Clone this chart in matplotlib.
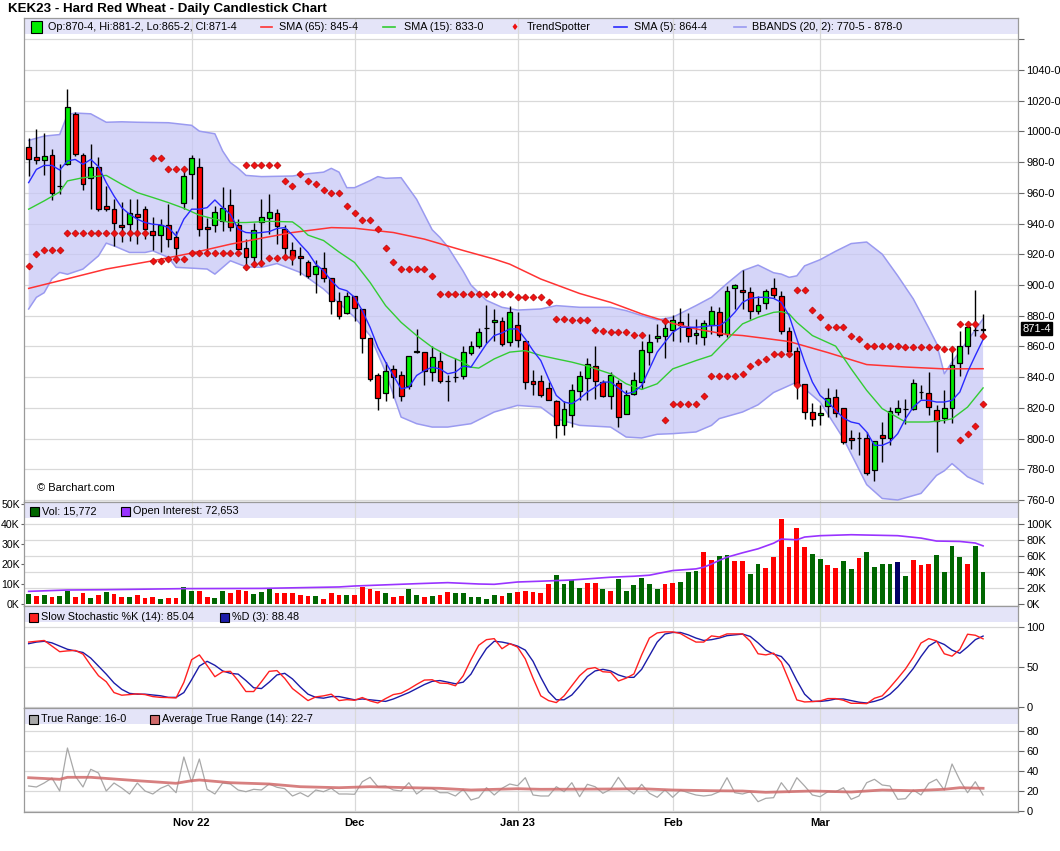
import numpy as np
import matplotlib
matplotlib.use('Agg')
import matplotlib.pyplot as plt
from matplotlib.patches import Rectangle
from matplotlib.lines import Line2D

W, H = 1060, 851

# ---- daily bars, KEK23 (Oct 3 2022 .. Mar 30 2023), index = trading day ----
opens = [990.1, 983.6, 981.2, 984.9, 964.5, 978.6, 1011.5, 984.9, 970.0, 977.1,
         951.3, 949.8, 939.4, 940.0, 946.1, 949.8, 934.9, 932.9, 939.0, 931.6,
         953.3, 972.1, 977.1, 937.5, 939.4, 941.6, 952.4, 939.4, 923.8, 918.4,
         941.3, 943.9, 947.2, 936.8, 922.9, 918.6, 915.1, 906.9, 911.2, 904.3,
         889.4, 881.8, 892.6, 884.4, 865.3, 841.1, 829.6, 845.4, 841.7, 834.2,
         856.3, 856.7, 843.3, 850.4, 837.8, 840.4, 840.6, 855.8, 860.6, 872.0,
         875.7, 876.4, 863.2, 874.0, 863.4, 837.4, 837.4, 832.9, 824.4, 809.1,
         815.1, 830.7, 839.6, 847.2, 836.8, 827.7, 836.1, 815.8, 828.8, 836.8,
         856.7, 865.4, 866.7, 871.0, 875.7, 871.9, 867.3, 866.0, 874.0, 882.2,
         868.2, 897.8, 896.5, 895.2, 882.9, 888.3, 897.8, 893.1, 869.9, 857.3,
         835.3, 817.3, 815.6, 821.2, 827.0, 819.9, 800.4, 800.6, 800.4, 779.8,
         802.1, 800.4, 817.3, 819.5, 819.5, 830.3, 829.6, 818.4, 813.4, 819.9,
         849.1, 860.2, 870.5, 870.5]
highs = [995.9, 1001.8, 999.2, 988.3, 978.6, 1027.7, 1012.8, 986.2, 991.6, 983.6,
         964.5, 955.9, 954.3, 955.9, 955.9, 951.5, 944.0, 943.3, 953.0, 935.3,
         977.1, 984.4, 983.0, 943.7, 951.5, 964.1, 962.4, 942.9, 929.9, 940.7,
         955.8, 959.1, 949.3, 939.0, 928.1, 924.9, 916.2, 916.2, 921.2, 904.3,
         895.2, 895.2, 892.6, 884.4, 865.3, 842.8, 849.7, 847.6, 844.3, 854.0,
         871.4, 856.7, 860.1, 856.3, 841.1, 852.3, 860.6, 863.8, 871.8, 887.0,
         884.4, 879.0, 886.6, 882.2, 863.4, 844.8, 841.5, 836.8, 824.9, 824.4,
         835.7, 843.7, 852.4, 860.2, 837.9, 843.3, 837.9, 831.4, 843.3, 863.8,
         868.2, 874.7, 875.7, 880.5, 884.8, 881.6, 877.9, 877.3, 886.6, 885.9,
         899.6, 900.6, 910.0, 898.5, 893.1, 897.4, 904.5, 896.3, 872.5, 859.5,
         835.3, 823.1, 821.6, 832.9, 832.0, 819.9, 805.4, 804.3, 804.3, 798.2,
         810.8, 820.5, 825.3, 826.0, 838.5, 834.6, 843.3, 821.6, 831.4, 859.5,
         870.3, 875.7, 897.0, 881.25]
lows = [971.0, 978.6, 971.4, 955.4, 959.1, 978.0, 984.0, 961.9, 949.8, 947.9,
        948.3, 925.6, 927.7, 928.8, 926.6, 929.9, 923.0, 921.2, 924.5, 914.1,
        949.4, 956.3, 932.0, 921.2, 934.6, 935.3, 935.3, 923.0, 910.0, 911.5,
        912.6, 933.1, 926.6, 916.9, 913.2, 906.5, 904.7, 894.6, 901.7, 881.1,
        877.9, 881.1, 876.8, 855.8, 837.2, 818.4, 824.8, 826.6, 824.8, 832.0,
        855.8, 835.2, 837.8, 836.1, 824.8, 836.8, 838.9, 854.5, 859.1, 862.1,
        863.8, 860.6, 860.1, 859.5, 832.4, 828.1, 827.0, 824.9, 800.4, 802.1,
        807.6, 824.9, 824.9, 826.0, 827.0, 819.5, 807.6, 815.8, 828.1, 832.4,
        847.6, 862.8, 852.6, 863.8, 863.2, 863.2, 861.7, 861.2, 868.2, 866.0,
        866.0, 884.4, 884.4, 877.9, 881.2, 884.4, 891.3, 868.2, 854.1, 825.9,
        813.0, 808.2, 808.6, 814.0, 814.0, 796.7, 793.5, 789.6, 776.6, 772.3,
        784.8, 795.6, 815.1, 809.3, 818.4, 826.0, 815.1, 791.3, 810.4, 810.4,
        840.7, 855.2, 867.1, 865.25]
closes = [982.3, 981.2, 984.2, 960.2, 964.5, 1016.0, 985.1, 966.0, 977.1, 949.4,
          949.4, 940.7, 937.5, 946.6, 944.6, 936.4, 932.9, 939.0, 930.3, 924.0,
          971.0, 982.7, 936.8, 936.2, 947.6, 950.4, 938.1, 923.4, 918.0, 935.9,
          944.6, 947.8, 938.5, 923.8, 918.6, 917.3, 905.6, 912.5, 904.3, 889.6,
          880.1, 893.0, 884.8, 865.3, 838.5, 826.4, 844.3, 840.0, 827.5, 854.0,
          857.3, 844.3, 853.0, 837.8, 837.8, 840.4, 856.7, 860.1, 869.2, 872.0,
          877.0, 861.7, 882.2, 864.5, 836.8, 835.3, 828.1, 824.9, 809.1, 819.0,
          831.4, 840.7, 848.7, 837.4, 827.7, 841.1, 814.0, 828.5, 838.3, 857.8,
          862.8, 867.1, 871.9, 877.3, 874.0, 866.7, 868.6, 875.1, 883.3, 867.5,
          896.3, 900.2, 895.2, 882.9, 887.2, 895.9, 893.5, 869.9, 856.9, 835.3,
          817.3, 812.9, 816.9, 826.4, 816.9, 797.8, 798.9, 800.6, 777.7, 798.2,
          800.4, 817.7, 819.9, 819.5, 836.1, 830.3, 820.7, 811.4, 819.9, 847.6,
          860.2, 872.5, 870.5, 871.5]

# ---- studies on the price panel ----
sma5 = [966.7, 975.3, 977.9, 977.9, 974.9, 980.8, 981.8, 978.6, 981.8, 977.1,
        966.7, 958.0, 950.4, 946.1, 942.9, 940.7, 939.6, 939.2, 937.5, 932.0,
        942.9, 949.4, 949.4, 950.4, 955.4, 950.4, 946.1, 936.4, 934.2, 933.8,
        934.2, 934.8, 936.8, 937.4, 932.5, 926.6, 921.2, 913.6, 909.3, 902.8,
        897.8, 896.3, 892.0, 883.3, 872.5, 859.5, 849.8, 841.1, 832.4, 833.5,
        841.1, 844.3, 846.5, 845.4, 842.2, 843.3, 847.2, 846.5, 854.1, 861.7,
        867.1, 868.8, 871.4, 871.4, 864.9, 857.3, 850.8, 839.0, 828.1, 823.8,
        822.7, 826.0, 830.3, 833.5, 836.8, 836.8, 832.9, 829.2, 830.3, 834.6,
        845.4, 856.3, 862.8, 869.2, 872.5, 872.5, 872.5, 872.9, 873.6, 873.6,
        876.8, 882.2, 888.7, 891.3, 892.0, 892.0, 891.3, 888.7, 880.1, 864.9,
        849.8, 836.8, 828.1, 823.8, 818.4, 813.4, 810.8, 809.7, 804.3, 795.6,
        795.6, 797.8, 803.2, 812.9, 820.5, 824.9, 824.9, 823.8, 823.8, 824.9,
        830.3, 843.3, 854.1, 864.5]

sma15_x = [0, 2, 4, 5, 7, 10, 12, 14, 16, 18, 20, 22, 24, 26, 28, 31, 34, 35, 36,
           38, 40, 42, 44, 46, 48, 50, 52, 54, 56, 57, 58, 60, 62, 64, 66, 68, 70,
           72, 75, 77, 79, 81, 83, 86, 88, 90, 92, 94, 96, 97, 98, 99, 101, 104,
           106, 108, 110, 113, 116, 118, 119, 121, 123]
sma15_y = [949.4, 954.8, 960.6, 967.8, 969.9, 971.4, 965.6, 960.2, 957.0, 953.7,
           950.0, 945.5, 942.9, 940.7, 940.7, 941.5, 941.1, 937.4, 932.5, 929.0,
           921.5, 914.7, 901.7, 886.6, 875.7, 867.1, 859.5, 854.1, 849.8, 846.5,
           845.9, 851.9, 856.3, 857.3, 854.1, 851.9, 849.8, 847.2, 842.2, 835.7,
           832.0, 835.7, 845.4, 850.8, 854.1, 864.5, 874.7, 879.0, 882.2, 882.7,
           881.2, 875.7, 867.1, 860.2, 845.4, 831.4, 819.5, 810.8, 810.8, 811.9,
           812.9, 820.5, 833.0]

sma65_x = [0, 4, 10, 16, 21, 26, 30, 34, 39, 42, 47, 51, 56, 60, 62, 66, 71, 75,
           79, 83, 86, 90, 92, 95, 98, 103, 108, 113, 118, 123]
sma65_y = [897.8, 902.8, 910.4, 915.8, 920.8, 926.6, 930.5, 934.2, 937.4, 937.0,
           934.2, 929.9, 922.5, 916.9, 913.6, 903.9, 894.5, 888.7, 881.2, 875.0,
           871.4, 867.8, 867.1, 865.2, 863.2, 856.0, 848.2, 846.6, 845.4, 845.5]

bbu_x = [0, 2, 4, 5, 6, 8, 10, 12, 14, 18, 21, 22, 24, 25, 26, 27, 28, 30, 32,
         34, 36, 38, 39, 40, 41, 42, 44, 45, 46, 48, 50, 52, 53, 54, 55, 56, 57,
         59, 61, 63, 66, 68, 71, 73, 75, 77, 79, 81, 83, 86, 88, 90, 92, 94, 96,
         97, 98, 99, 100, 102, 104, 106, 108, 110, 112, 114, 116, 117, 118, 119,
         121, 123]
bbu_y = [994.2, 997.0, 998.0, 1011.0, 1012.0, 1011.5, 1006.0, 1006.3, 1006.0,
         1005.7, 1004.0, 1000.2, 998.5, 987.3, 979.7, 976.0, 971.4, 970.6, 970.8,
         971.0, 972.5, 973.5, 976.0, 973.5, 963.4, 963.4, 968.0, 970.6, 969.5,
         969.9, 955.8, 936.0, 931.0, 925.0, 917.0, 909.0, 900.0, 890.0, 885.5,
         883.7, 884.4, 886.6, 885.5, 885.5, 885.5, 883.3, 880.1, 877.3, 879.0,
         886.6, 892.0, 901.0, 909.3, 913.0, 908.0, 907.1, 905.0, 906.0, 912.5,
         916.5, 922.0, 927.0, 928.0, 920.1, 906.0, 891.0, 872.0, 862.0, 842.2,
         849.8, 863.8, 878.0]
bbl_x = [0, 1, 2, 3, 4, 5, 7, 9, 10, 11, 13, 15, 16, 18, 19, 21, 23, 24, 26, 28,
         30, 32, 35, 38, 42, 44, 46, 48, 50, 52, 54, 57, 60, 63, 66, 68, 71, 75,
         77, 79, 81, 83, 86, 88, 89, 92, 94, 96, 99, 102, 104, 105, 107, 108,
         110, 112, 115, 117, 118, 119, 121, 123]
bbl_y = [884.4, 892.0, 895.0, 904.0, 908.2, 907.0, 910.4, 919.0, 927.3, 925.5,
         921.2, 921.2, 922.3, 918.0, 911.5, 911.0, 910.4, 907.1, 915.8, 911.9,
         911.5, 914.0, 908.2, 897.4, 879.0, 867.1, 843.3, 814.0, 809.7, 807.5,
         807.5, 809.7, 817.3, 821.6, 820.5, 813.0, 808.6, 807.5, 801.0, 800.4,
         802.8, 803.2, 804.3, 808.6, 813.0, 817.3, 822.0, 830.0, 836.8, 823.8,
         808.0, 800.0, 780.0, 770.0, 761.0, 760.0, 764.3, 776.0, 779.0, 783.7,
         775.1, 770.5]

# TrendSpotter dots (index, price)
ts_x = ([0, 1, 2, 3, 4] + list(range(5, 16)) + [16, 17, 18, 19, 20]
        + [16, 17, 18, 19, 20] + list(range(21, 28)) + list(range(28, 33))
        + [28, 29, 30, 31, 32, 33, 34]
        + [33, 34, 35, 36, 37, 38, 39, 40, 41, 42, 43, 44, 45, 46, 47]
        + [48, 49, 50, 51, 52] + list(range(53, 63)) + [63, 64, 65, 66, 67]
        + [68, 69, 70, 71, 72, 73, 74, 75, 76, 77, 78, 79, 82]
        + [82, 83, 84, 85, 86, 87, 88, 89, 90, 91, 92, 93, 94, 95, 96, 97, 98, 99]
        + [99, 100, 101, 102, 103, 104, 105, 106, 107] + list(range(108, 120))
        + [120, 121, 122, 123] + [120, 121, 122, 123])
ts_y = ([912.1, 920.1, 922.7, 922.7, 922.7] + [934.2] * 11
        + [983.0, 982.5, 975.8, 975.8, 975.8]
        + [915.4, 915.4, 916.9, 916.9, 916.9] + [920.8] * 7 + [978.0] * 5
        + [912.0, 913.6, 914.3, 917.4, 917.4, 918.0, 918.0]
        + [968.0, 964.7, 972.5, 968.0, 966.0, 962.1, 960.2, 960.2, 951.7, 946.7,
           942.6, 942.6, 936.3, 924.2, 915.3]
        + [910.2, 910.2, 910.2, 910.2, 905.6] + [893.9] * 10
        + [892.0, 892.0, 892.0, 892.0, 888.7]
        + [877.7, 877.7, 877.0, 877.0, 877.0, 871.0, 870.3, 869.2, 869.2, 869.2,
           867.3, 867.3, 876.4]
        + [811.9, 822.3, 822.3, 822.3, 822.3, 827.7, 840.7, 840.7, 840.7, 840.7,
           842.0, 847.2, 849.8, 851.9, 855.0, 855.0, 855.0, 834.6]
        + [896.5, 896.5, 883.5, 879.0, 872.5, 872.5, 872.5, 866.6, 864.7]
        + [860.2] * 5 + [859.5] * 5 + [858.4, 858.4]
        + [874.7, 874.7, 874.7, 867.1] + [798.9, 803.2, 808.2, 822.5])

# ---- volume (K contracts) and open interest ----
volume = [5.0, 4.0, 4.5, 3.5, 4.0, 6.7, 3.5, 5.3, 3.0, 4.5,
          6.0, 5.0, 3.5, 3.5, 4.5, 3.0, 3.5, 2.5, 3.0, 3.0,
          8.5, 6.5, 6.5, 3.3, 3.0, 6.5, 5.5, 7.2, 6.5, 5.0,
          6.0, 7.3, 5.5, 5.5, 5.5, 4.5, 4.0, 4.0, 2.5, 5.5,
          4.5, 4.5, 4.5, 8.5, 7.5, 6.5, 5.5, 3.5, 4.0, 7.5,
          4.5, 3.5, 4.0, 4.5, 6.0, 5.5, 5.5, 3.5, 3.5, 2.5,
          4.5, 4.0, 5.3, 6.0, 6.5, 6.0, 5.5, 10.0, 14.5, 10.0,
          12.0, 8.0, 10.5, 10.5, 7.5, 6.5, 12.5, 6.5, 9.5, 13.0,
          10.0, 7.5, 10.0, 10.5, 11.0, 16.0, 16.5, 26.0, 22.0, 24.0,
          24.5, 21.5, 21.5, 15.0, 20.0, 18.0, 23.5, 42.5, 28.5, 38.0,
          28.5, 25.0, 22.5, 19.5, 18.0, 21.5, 17.5, 23.0, 26.0, 18.5,
          20.0, 20.0, 21.0, 14.0, 22.0, 19.5, 20.0, 24.5, 16.0, 29.0,
          23.5, 20.0, 29.0, 15.8]
vol_dir = ("grgrggrrgrgrrgrrrgrrggrrggrrrgggrrrrrgrrrgrrrrgrrggrgrrgggggg"
           "rgrrrrrggggrrgrggggggrrgggrrggrrggrrrrrrggrrggrggggbgrrrggggrg")
oi_x = [0, 5, 10, 20, 30, 40, 42, 50, 54, 58, 60, 63, 66, 70, 75, 78, 80, 83, 86,
        87, 88, 89, 90, 92, 94, 96, 97, 99, 100, 102, 106, 110, 112, 115, 117,
        120, 122, 123]
oi_y = [15.8, 17.5, 17.9, 19.2, 19.5, 21.3, 22.5, 25.4, 26.7, 25.0, 24.6, 27.5,
        28.5, 30.0, 33.5, 34.7, 36.0, 41.8, 43.9, 46.0, 50.0, 54.5, 58.5, 64.0,
        69.0, 76.0, 81.2, 80.3, 83.7, 85.4, 86.6, 85.8, 85.4, 82.4, 78.7, 78.2,
        76.2, 72.65]

# ---- slow stochastic ----
stoch_k = [81, 82, 83, 76, 69, 70, 70.6, 66, 52, 39,
           31.5, 18, 14.7, 15.5, 16.4, 15.5, 13, 12, 11.8, 11.3,
           30.7, 59, 65, 51.7, 37.8, 44, 44.5, 32.8, 19.3, 19.3,
           31.5, 44.5, 45.4, 35.7, 23, 15.5, 8, 12.6, 13.9, 16,
           8, 9.2, 8.4, 11.8, 7.6, 5, 10.5, 15.5, 17.2, 22.3,
           28.2, 33.6, 34, 29.8, 29.4, 26.5, 39, 59, 77, 84,
           85.3, 72.7, 79, 74.8, 60, 36, 13.9, 8, 5.5, 13.9,
           26.5, 39, 47.5, 49.2, 44, 43.3, 32.4, 36, 41.2, 65,
           86, 92.4, 93.7, 93.7, 91.6, 86, 81, 81, 88.7, 87.4,
           91.2, 91.2, 91.2, 82, 66.4, 65, 67.2, 56, 32.8, 8.8,
           6.3, 6.7, 7.6, 10.5, 10.5, 8.4, 4.6, 4.6, 4.2, 10.9,
           13.9, 24.4, 35.7, 47.5, 62.2, 79.8, 85.3, 82.4, 66.4, 63.4,
           71.8, 90.8, 89.5, 85.04]
stoch_d = [79, 81, 82, 80, 76, 72, 70, 68, 61, 51,
           41, 30, 22, 17, 16, 16, 15, 14, 12, 12,
           18, 34, 51, 57, 52, 45, 42, 41, 33, 24,
           23, 31, 40, 42, 35, 25, 16, 12, 11, 13,
           13, 11, 9, 10, 9, 8, 7, 10, 14, 18,
           23, 28, 32, 33, 31, 29, 31, 41, 58, 73,
           82, 81, 79, 76, 71, 57, 37, 19, 9, 9,
           15, 26, 38, 45, 47, 45, 40, 37, 37, 47,
           64, 81, 91, 93, 93, 90, 86, 83, 84, 86,
           89, 90, 91, 88, 80, 71, 66, 63, 52, 33,
           16, 7, 7, 8, 10, 10, 8, 6, 5, 7,
           10, 16, 25, 36, 48, 63, 76, 82, 78, 71,
           67, 75, 84, 88.48]

# ---- true range / ATR(14) ----
true_range = [25, 24, 28, 33, 20, 63, 35, 24, 41.7, 38,
              20, 28, 23, 17, 28, 20, 17, 22.7, 26, 18.3,
              54, 29, 52, 21.7, 17, 28, 27, 21, 19.3, 21.7,
              21, 27, 23.7, 22.3, 15, 18.3, 14.3, 21, 19.3, 22.7,
              17, 17, 16.7, 29.3, 33.7, 24.3, 25, 21, 20, 28.3,
              17, 22.7, 22.7, 18.3, 18.3, 15, 21.7, 11, 13.3, 23.3,
              16, 22.7, 27, 25.3, 33.3, 16, 15, 15, 24.3, 19.3,
              28.3, 14.3, 26.7, 24.3, 17.7, 21.7, 33.7, 22.7, 17, 26.7,
              17.7, 13.7, 21, 13.7, 21, 18.3, 16, 15, 16, 19.3,
              33.3, 18.3, 17, 19.3, 9.3, 12.7, 13.3, 28.3, 18.3, 33.3,
              25, 16, 14.3, 19.3, 19.3, 23.3, 11.7, 15, 28.3, 31.7,
              26, 25, 11.7, 12.3, 21, 16, 27.7, 31.7, 21, 47,
              31, 18.3, 29.3, 16]
atr_x = [0, 4, 5, 8, 11, 14, 19, 21, 22, 26, 31, 35, 40, 44, 49, 53, 57, 63, 66,
         75, 79, 83, 88, 92, 95, 101, 106, 110, 114, 118, 120, 123]
atr_y = [33.3, 31.7, 33.7, 33.7, 32.0, 30.3, 27.7, 30.3, 31.0, 28.3, 27.0, 24.3,
         23.3, 24.3, 23.3, 22.7, 21.0, 22.3, 21.7, 22.0, 22.3, 21.0, 20.3, 20.0,
         18.7, 20.0, 19.0, 21.0, 20.3, 21.7, 23.3, 22.7]

month_idx = [21, 42, 63, 83, 102]
month_lbl = ['Nov 22', 'Dec', 'Jan 23', 'Feb', 'Mar']

NARROW = ['Liberation Sans Narrow', 'Liberation Sans', 'DejaVu Sans']
plt.rcParams['font.family'] = ['Liberation Sans', 'DejaVu Sans']
GRID = '#d9d9d9'
BAND = '#e4e4f8'
XL = (-0.6, 127.5)


def fx(x):
    return x / W


def fy(y):
    return 1 - y / H


def panel(fig, top, bottom):
    ax = fig.add_axes([fx(24), fy(bottom), (1018 - 24) / W, (bottom - top) / H])
    ax.set_xlim(*XL)
    for s in ax.spines.values():
        s.set_color('#9a9a9a')
        s.set_linewidth(0.9)
    ax.set_axisbelow(True)
    ax.set_xticks(month_idx)
    ax.tick_params(axis='x', length=0, labelbottom=False)
    ax.tick_params(axis='y', direction='out', length=4, color='#666666',
                   labelsize=8, pad=2)
    ax.grid(True, axis='x', color=GRID, lw=0.9)
    band_h = 15.5 / (bottom - top)
    ax.add_patch(Rectangle((0, 1 - band_h), 1, band_h, transform=ax.transAxes,
                           facecolor=BAND, edgecolor='none', zorder=0.2))
    return ax


def legend_square(fig, x, y, color, size=9):
    fig.patches.append(Rectangle((fx(x), fy(y + size / 2)), size / W, size / H,
                                 transform=fig.transFigure, facecolor=color,
                                 edgecolor='black', lw=0.8))


def legend_line(fig, x0, x1, y, color):
    fig.lines.append(Line2D([fx(x0), fx(x1)], [fy(y), fy(y)],
                            transform=fig.transFigure, color=color, lw=1.2))


def legend_text(fig, x, y, s, size=7.8):
    fig.text(fx(x), fy(y), s, fontsize=size, va='center', ha='left', family=NARROW)


fig = plt.figure(figsize=(W / 100, H / 100), dpi=100)
fig.patch.set_facecolor('white')
fig.text(fx(8), fy(9), 'KEK23 - Hard Red Wheat - Daily Candlestick Chart',
         fontsize=9.6, fontweight='bold', va='center', ha='left', family=NARROW)

x = np.arange(len(closes))
o = np.array(opens)
h = np.array(highs)
l = np.array(lows)
c = np.array(closes)

# ---------------- price panel ----------------
ax = panel(fig, 18, 502)
ax.set_ylim(758.7, 1073.9)
ax.yaxis.tick_right()
pticks = np.arange(760, 1061, 20)
ax.set_yticks(pticks)
ax.set_yticklabels([f'{v}-0' if v <= 1040 else '' for v in pticks])
ax.grid(True, axis='y', color=GRID, lw=0.9)

ax.fill(np.r_[bbu_x, bbl_x[::-1]], np.r_[bbu_y, bbl_y[::-1]],
        facecolor='#c6c6f6', alpha=0.72, edgecolor='none', zorder=1.5)
ax.plot(bbu_x, bbu_y, color='#9a9af0', lw=1.1, zorder=1.6)
ax.plot(bbl_x, bbl_y, color='#9a9af0', lw=1.1, zorder=1.6)

body_col = np.where(c > o, '#00ee00', np.where(c < o, '#ff0000', 'black'))
ax.vlines(x, l, h, color='black', lw=1.0, zorder=3)
ax.bar(x, np.abs(c - o), 0.62, bottom=np.minimum(o, c), color=body_col,
       edgecolor='black', linewidth=0.9, zorder=4)

ax.plot(sma65_x, sma65_y, color='#ff3333', lw=1.1, zorder=5)
ax.plot(sma15_x, sma15_y, color='#33cc33', lw=1.0, zorder=5)
ax.plot(x, sma5, color='#2a2aff', lw=1.0, zorder=5)
ax.scatter(ts_x, ts_y, marker='D', s=13, color='#ee1111', edgecolor='#aa0000',
           linewidth=0.4, zorder=6)

ax.annotate('871-4', xy=(1.0, closes[-1]), xycoords=('axes fraction', 'data'),
            xytext=(3, 0), textcoords='offset points', fontsize=8, color='white',
            va='center', ha='left',
            bbox=dict(boxstyle='square,pad=0.15', facecolor='black', edgecolor='black'))
fig.text(fx(37), fy(488), '\u00a9 Barchart.com', fontsize=8, va='center')

legend_square(fig, 31, 27, '#00ee00', size=11)
legend_text(fig, 48, 27, 'Op:870-4, Hi:881-2, Lo:865-2, Cl:871-4')
legend_line(fig, 261, 272, 27, '#ff3333')
legend_text(fig, 279, 27, 'SMA (65): 845-4')
legend_line(fig, 383, 395, 27, '#33cc33')
legend_text(fig, 404, 27, 'SMA (15): 833-0')
fig.text(fx(515), fy(27), '\u2666', color='#ee1111', fontsize=6.5, ha='center',
         va='center', family=['DejaVu Sans'])
legend_text(fig, 527, 27, 'TrendSpotter')
legend_line(fig, 614, 627, 27, '#2a2aff')
legend_text(fig, 634, 27, 'SMA (5): 864-4')
legend_line(fig, 734, 746, 27, '#9a9af0')
legend_text(fig, 752, 27, 'BBANDS (20, 2): 770-5 - 878-0')

# ---------------- volume / open interest ----------------
axv = panel(fig, 502, 606)
axv.set_ylim(-1, 51)
axv.set_yticks(np.arange(0, 51, 10))
axv.set_yticklabels([f'{v}K' for v in range(0, 51, 10)])
axv.tick_params(axis='y', length=2, pad=1, labelsize=7.6)
for g in [8, 16, 24, 32, 40]:
    axv.axhline(g, color=GRID, lw=0.9, zorder=0.5)
vcol = {'g': '#006600', 'r': '#ff0000', 'b': '#000066'}
axv.bar(x, volume, 0.62, color=[vcol[d] for d in vol_dir], zorder=3)
axv2 = axv.twinx()
axv2.set_xlim(*XL)
axv2.set_ylim(-2.5, 127.5)
axv2.set_yticks(np.arange(0, 101, 20))
axv2.set_yticklabels([f'{v}K' for v in range(0, 101, 20)])
axv2.tick_params(axis='y', direction='out', length=4, color='#666666',
                 labelsize=8, pad=2)
for s in axv2.spines.values():
    s.set_visible(False)
axv2.plot(oi_x, oi_y, color='#9933ff', lw=1.2, zorder=4)
legend_square(fig, 30, 511, '#006600')
fig.text(fx(42), fy(511), 'Vol: 15,772', fontsize=7.8, va='center')
legend_square(fig, 121, 511, '#9933ff')
fig.text(fx(133), fy(511), 'Open Interest: 72,653', fontsize=7.8, va='center')

# ---------------- slow stochastic ----------------
axs = panel(fig, 606, 708)
axs.set_ylim(-1.25, 126)
axs.yaxis.tick_right()
axs.set_yticks([0, 50, 100])
axs.grid(True, axis='y', color=GRID, lw=0.9)
axs.plot(x, stoch_d, color='#1c1ca8', lw=1.0, zorder=3)
axs.plot(x, stoch_k, color='#ff2020', lw=1.0, zorder=4)
legend_square(fig, 29, 617, '#ff2020')
legend_text(fig, 41, 617, 'Slow Stochastic %K (14): 85.04')
legend_square(fig, 220, 617, '#1c1ca8')
legend_text(fig, 232, 617, '%D (3): 88.48')

# ---------------- true range ----------------
axt = panel(fig, 708, 812)
axt.set_ylim(-1, 103)
axt.yaxis.tick_right()
axt.set_yticks([0, 20, 40, 60, 80])
axt.grid(True, axis='y', color=GRID, lw=0.9)
axt.plot(x, true_range, color='#a8a8a8', lw=0.9, zorder=3)
axt.plot(atr_x, atr_y, color='#d06a6a', lw=2.0, alpha=0.85, zorder=4)
axt.tick_params(axis='x', labelbottom=True, labelsize=8, pad=4)
axt.set_xticklabels(month_lbl, fontweight='bold', family=NARROW)
legend_square(fig, 29, 719, '#a8a8a8')
legend_text(fig, 41, 719, 'True Range: 16-0')
legend_square(fig, 150, 719, '#d06a6a')
legend_text(fig, 162, 719, 'Average True Range (14): 22-7')

fig.savefig('out.png', dpi=100, facecolor='white')
